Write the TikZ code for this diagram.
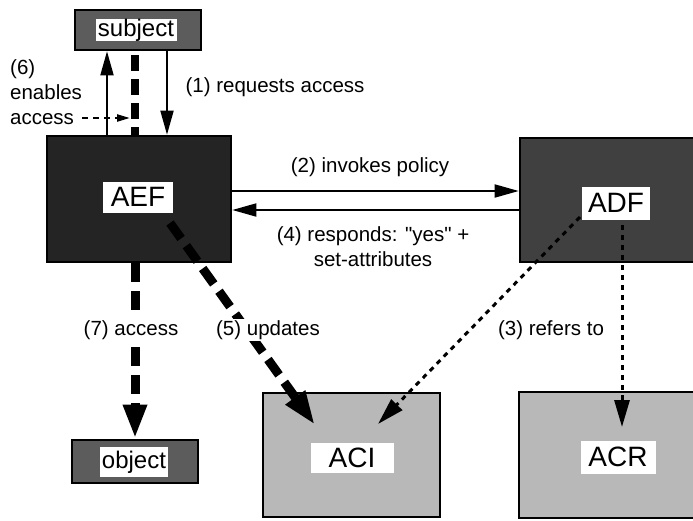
\documentclass[tikz,border=0pt]{standalone}
\usepackage{fontspec}
\setmainfont{Liberation Sans}
\usetikzlibrary{arrows.meta}
\begin{document}
\begin{tikzpicture}[x=1pt,y=-1pt,
  box/.style={draw=black, line width=2.6pt, inner sep=0pt},
  lbl/.style={fill=white, inner sep=0pt, font=\fontsize{28}{30}\selectfont},
  smalllbl/.style={fill=white, inner sep=0pt, font=\fontsize{24}{26}\selectfont},
  txt/.style={font=\fontsize{20.5}{25}\selectfont, inner sep=1pt},
  solidarr/.style={line width=1.8pt, -{Triangle[length=24pt,width=13pt]}},
  heavydash/.style={line width=9pt, dash pattern=on 19pt off 9pt, -{Triangle[length=34pt,width=22pt]}},
  heavydashplain/.style={line width=8pt, dash pattern=on 16pt off 8pt},
  dotarr/.style={line width=3pt, dash pattern=on 5pt off 5pt, -{Triangle[length=27pt,width=15pt]}},
  thindash/.style={line width=2.2pt, dash pattern=on 6pt off 5pt, -{Triangle[length=13pt,width=7pt]}}
]
\useasboundingbox (0,0) rectangle (693,520);
\clip (0,0) rectangle (693,520);

% boxes
\node[box, fill=black!64, minimum width=126pt, minimum height=40pt] (subj) at (138,30) {};
\node[smalllbl, minimum width=81pt, minimum height=20pt] (subjl) at (136,30) {subject};

\node[box, fill=black!86, minimum width=184pt, minimum height=126pt] (aef) at (139,199) {};
\node[lbl, minimum width=70pt, minimum height=31pt] (aefl) at (138,197) {AEF};

\node[box, fill=black!75, minimum width=194pt, minimum height=124pt] (adf) at (617,200) {};
\node[lbl, minimum width=68pt, minimum height=33pt] (adfl) at (616,203) {ADF};

\node[box, fill=black!64, minimum width=126pt, minimum height=43pt] (obj) at (135,461.5) {};
\node[smalllbl, minimum width=68pt, minimum height=30pt] (objl) at (134,462) {object};

\node[box, fill=black!28, minimum width=177pt, minimum height=124pt] (aci) at (351.5,455) {};
\node[lbl, minimum width=83pt, minimum height=30pt] (acil) at (352,458) {ACI};

\node[box, fill=black!28, minimum width=198pt, minimum height=126pt] (acr) at (618,455) {};
\node[lbl, minimum width=75pt, minimum height=33pt] (acrl) at (618,457) {ACR};

% subject <-> AEF
\coordinate (up0) at (107,136);
\coordinate (up1) at (107,50);
\coordinate (dn0) at (167,50);
\coordinate (dn1) at (167,136);
\draw[solidarr] (aef.north -| up0) -- (subj.south -| up1);
\draw[solidarr] (subj.south -| dn0) -- (aef.north -| dn1);
\coordinate (dd0) at (135,55);
\coordinate (dd1) at (135,136);
\draw[heavydashplain] (dd0) -- (aef.north -| dd1);

\coordinate (t6a) at (82,118);
\coordinate (t6b) at (130,118);
\draw[thindash] (t6a) -- (t6b);

% AEF <-> ADF
\coordinate (r2) at (0,191);
\coordinate (r4) at (0,210);
\draw[solidarr] (aef.east |- r2) -- (adf.west |- r2);
\draw[solidarr] (adf.west |- r4) -- (aef.east |- r4);

% AEF -> object
\draw[heavydash] (aef.south -| obj.north) -- (obj.north);

% AEF -> ACI (updates)
\coordinate (u0) at (170,223);
\coordinate (u1) at (315,425);
\draw[heavydash] (u0) -- (u1);

% ADF -> ACI, ACR (refers to)
\coordinate (f0) at (580,217);
\coordinate (f1) at (378,424);
\draw[dotarr] (f0) -- (f1);
\coordinate (g0) at (622,225);
\coordinate (g1) at (622,427);
\draw[dotarr] (g0) -- (g1);

% labels
\node[txt] (l1) at (275,87) {(1) requests access};
\node[txt, align=left, anchor=north west, inner sep=0pt] (l6) at (10,59) {(6)\\enables\\access};
\node[txt] (l2) at (370,167) {(2) invokes policy};
\node[txt, align=center] (l4) at (373,247) {(4) responds: \textquotedbl yes\textquotedbl\ +\\set-attributes};
\node[txt, fill=white] (l7) at (131,330) {(7) access};
\node[txt, fill=white] (l5) at (268,330) {(5) updates};
\node[txt] (l3) at (551,330) {(3) refers to};
\end{tikzpicture}
\end{document}
